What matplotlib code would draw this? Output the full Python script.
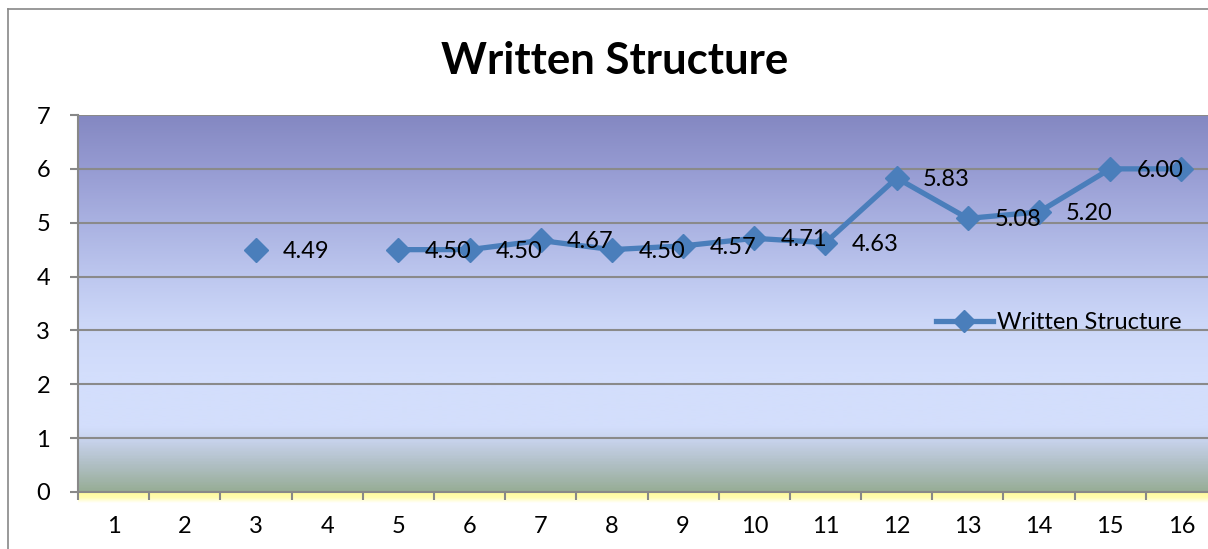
import numpy as np
import matplotlib
matplotlib.use("Agg")
import matplotlib.pyplot as plt
from matplotlib.colors import LinearSegmentedColormap
from matplotlib.lines import Line2D

plt.rcParams['font.family'] = ['Lato', 'DejaVu Sans']

categories = list(range(1, 17))
scores = [np.nan, np.nan, 4.49, np.nan, 4.50, 4.50, 4.67, 4.50, 4.57,
          4.71, 4.63, 5.83, 5.08, 5.20, 6.00, 6.00]
series_name = "Written Structure"
title = "Written Structure"

W, H = 1208, 549
fig = plt.figure(figsize=(W / 100, H / 100), dpi=100)

# plot area geometry (pixels)
left_px, right_px, top_px, bot_px = 78, 1217, 115, 492
ax = fig.add_axes([left_px / W, 1 - bot_px / H,
                   (right_px - left_px) / W, (bot_px - top_px) / H])

# background gradient of the plot area, bottom (0) to top (1)
stops = [(0.00, "#97ad96"), (0.07, "#b0bfc4"), (0.14, "#c9d4ef"),
         (0.17, "#d3defc"), (0.32, "#d3defc"), (0.45, "#ccd7f8"),
         (0.58, "#bcc6ee"), (0.72, "#a9b1e1"), (0.86, "#969bd2"),
         (1.00, "#8488c2")]
cmap = LinearSegmentedColormap.from_list("bg", stops)
grad = np.linspace(0, 1, 400).reshape(-1, 1)
ax.imshow(grad, cmap=cmap, aspect="auto", origin="lower",
          extent=[0.5, 16.5, 0, 7], zorder=0, interpolation="bilinear")

# yellow floor strip just below the plot area
strip = fig.add_axes([left_px / W, 1 - 503 / H,
                      (right_px - left_px) / W, 11 / H], zorder=-1)
ycmap = LinearSegmentedColormap.from_list("fl", ["#ffffff", "#fffcb0", "#fffa9c"])
strip.imshow(np.linspace(0, 1, 50).reshape(-1, 1), cmap=ycmap, aspect="auto",
             origin="lower", extent=[0, 1, 0, 1], interpolation="bilinear")
strip.axis("off")

x = np.array(categories, dtype=float)
y = np.array(scores, dtype=float)
line_color = "#4a7ebb"
ax.plot(x, y, color=line_color, lw=3.8, marker="D", markersize=12,
        markeredgecolor=line_color, markerfacecolor=line_color, zorder=3,
        clip_on=False)

for xi, yi in zip(x, y):
    if np.isnan(yi):
        continue
    ax.annotate(f"{yi:.2f}", (xi, yi), xytext=(19, -1),
                textcoords="offset points", ha="left", va="center",
                fontsize=17, color="black", zorder=4, annotation_clip=False)

ax.set_xlim(0.5, 16.5)
ax.set_ylim(0, 7)
ax.set_yticks(range(0, 8))
ax.set_xticks(np.arange(0.5, 16.6, 1.0))
ax.set_xticklabels([])
ax.set_xticks(categories, minor=True)
ax.set_xticklabels([str(c) for c in categories], minor=True)
ax.tick_params(axis="x", which="minor", length=0, pad=17, labelsize=17)
ax.tick_params(axis="x", which="major", length=6, width=1.5, color="#888888",
               direction="out")
ax.tick_params(axis="y", length=6, width=1.5, color="#888888",
               direction="out", labelsize=17, pad=14)

ax.grid(axis="y", color="#8a8a8a", lw=1.5, zorder=1)
ax.set_axisbelow(True)
for s in ["top", "right"]:
    ax.spines[s].set_visible(False)
for s in ["left", "bottom"]:
    ax.spines[s].set_color("#888888")
    ax.spines[s].set_linewidth(1.5)

handle = Line2D([], [], color=line_color, lw=3.8, marker="D", markersize=11)
ax.legend([handle], [series_name], loc="center left",
          bbox_to_anchor=((936 - left_px) / (right_px - left_px), 3.15 / 7),
          frameon=False, fontsize=17, handlelength=2.4, handletextpad=0.2,
          borderpad=0, borderaxespad=0)

fig.text(615 / W, 1 - 61 / H, title, ha="center", va="center",
         fontsize=31.5, fontweight="bold")

# outer chart border
fig.add_artist(Line2D([8 / W, 8 / W], [0, 1 - 9 / H], color="#888888", lw=1.2))
fig.add_artist(Line2D([8 / W, 1], [1 - 9 / H, 1 - 9 / H], color="#888888", lw=1.2))

fig.savefig("out.png", dpi=100)
